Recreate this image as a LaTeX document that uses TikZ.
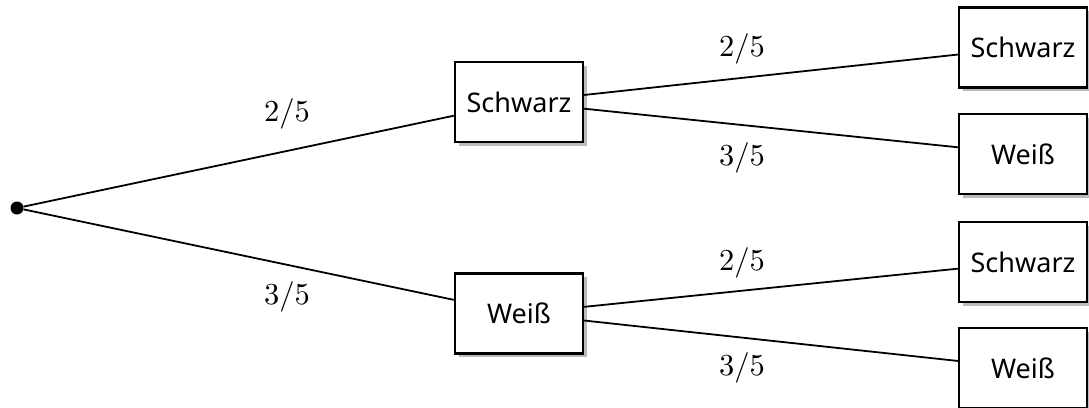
\documentclass[tikz,border=0pt]{standalone}
\usepackage{fontspec}
\setmainfont{Noto Sans}
\usetikzlibrary{shadows}
\tikzset{
  box/.style={draw=black, line width=2.4pt, fill=white, minimum width=128pt, minimum height=80pt, inner sep=0pt,
    font=\fontsize{27}{32}\selectfont,
    drop shadow={shadow xshift=3.5pt, shadow yshift=-3.5pt, fill=black!30!cyan!10!gray!60, opacity=1}},
  edge/.style={line width=1.8pt},
  prob/.style={font=\fontsize{10}{12}\selectfont, inner sep=0pt, scale=3.05},
  dot/.style={circle, fill=black, minimum size=13pt, inner sep=0pt}
}
\begin{document}
\begin{tikzpicture}[x=1pt,y=-1pt]
\useasboundingbox (0,0) rectangle (1089,407);
\node[dot] (root) at (17,208) {};
\node[box] (s1) at (519,102) {Schwarz};
\node[box] (w1) at (519,313.5) {Weiß};
\node[box] (ss) at (1023,47.5) {Schwarz};
\node[box] (sw) at (1023,154) {Weiß};
\node[box] (ws) at (1023,262) {Schwarz};
\node[box] (ww) at (1023,368) {Weiß};
\draw[edge] (root) -- (s1);
\draw[edge] (root) -- (w1);
\draw[edge] (s1) -- (ss);
\draw[edge] (s1) -- (sw);
\draw[edge] (w1) -- (ws);
\draw[edge] (w1) -- (ww);
\node[prob] (p1) at (287,114) {$2/5$};
\node[prob] (p2) at (287,297) {$3/5$};
\node[prob] (p3) at (742,49) {$2/5$};
\node[prob] (p4) at (742,158) {$3/5$};
\node[prob] (p5) at (742,263) {$2/5$};
\node[prob] (p6) at (742,368) {$3/5$};
\end{tikzpicture}
\end{document}
